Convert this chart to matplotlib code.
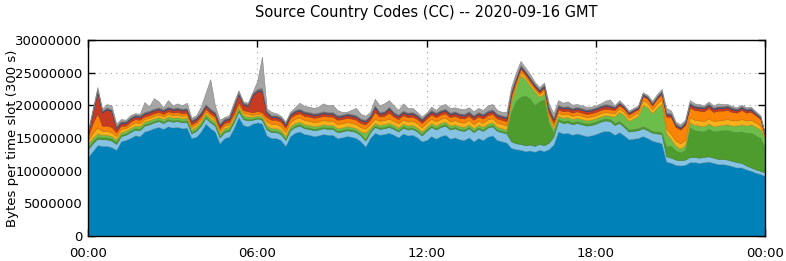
import numpy as np
import matplotlib
matplotlib.use("Agg")
import matplotlib.pyplot as plt
from matplotlib.ticker import FuncFormatter, MultipleLocator

# stacked layers, values in millions of bytes per 300 s slot, one value per 10 minutes
blue = [
    12.1, 13.0, 13.9, 13.8, 13.8, 13.6, 13.2, 14.5, 14.7, 15.0, 15.4, 15.3,
    16.0, 16.2, 16.5, 16.7, 16.4, 16.8, 16.6, 16.7, 16.5, 16.6, 15.0, 15.2,
    16.0, 17.2, 16.5, 16.0, 14.2, 15.0, 15.2, 16.5, 18.2, 17.0, 16.8, 17.2,
    17.4, 17.2, 15.4, 15.0, 15.0, 14.7, 13.8, 15.3, 15.8, 16.0, 15.6, 15.5,
    15.3, 15.4, 15.6, 15.5, 15.5, 15.0, 15.1, 15.3, 15.2, 15.0, 14.5, 13.7,
    15.0, 15.8, 15.5, 15.6, 15.8, 15.5, 15.1, 15.7, 15.4, 15.5, 15.1, 14.5,
    14.7, 15.3, 14.9, 15.3, 15.5, 14.9, 15.1, 14.8, 14.7, 15.1, 14.5, 15.0,
    14.7, 15.2, 15.4, 14.7, 14.5, 14.3, 13.5, 13.3, 13.2, 13.0, 13.1, 12.9,
    13.2, 13.0, 13.3, 14.0, 16.0, 15.7, 15.8, 15.5, 15.7, 15.5, 15.3, 15.4,
    15.6, 15.9, 16.1, 16.0, 15.5, 15.9, 15.4, 14.8, 14.9, 15.0, 15.3, 15.0,
    14.6, 14.4, 14.2, 11.4, 11.2, 10.9, 10.8, 10.9, 11.3, 11.3, 11.2, 11.3,
    11.4, 11.2, 11.0, 11.0, 10.9, 10.7, 10.5, 10.5, 10.2, 10.0, 9.7, 9.5,
    9.2]

lightblue = [
    1.2, 1.2, 1.0, 1.0, 1.0, 1.0, 0.9, 0.8, 0.8, 0.9, 0.9, 0.9,
    0.9, 0.9, 0.9, 0.9, 0.9, 0.9, 0.9, 0.9, 0.9, 0.9, 0.7, 0.9,
    0.9, 0.9, 0.9, 0.9, 0.9, 0.9, 0.9, 0.9, 0.9, 0.9, 0.9, 0.6,
    0.6, 0.6, 0.9, 0.9, 0.9, 0.9, 0.9, 0.9, 0.9, 0.9, 0.9, 0.9,
    0.9, 0.9, 0.9, 0.9, 0.9, 0.9, 0.9, 0.9, 0.9, 0.9, 0.9, 0.9,
    0.9, 0.9, 0.9, 0.9, 0.9, 0.9, 0.9, 0.9, 0.9, 0.9, 0.9, 0.9,
    1.4, 1.4, 1.4, 1.4, 1.4, 1.4, 1.4, 1.4, 1.4, 1.4, 1.4, 1.4,
    1.4, 1.4, 1.4, 1.4, 1.4, 1.4, 1.0, 0.9, 0.9, 0.9, 0.9, 0.9,
    0.9, 0.9, 1.0, 1.2, 1.6, 1.6, 1.6, 1.6, 1.6, 1.6, 1.6, 1.6,
    1.6, 1.6, 1.6, 1.6, 1.5, 1.4, 1.3, 1.2, 1.2, 1.2, 1.2, 1.2,
    1.2, 1.3, 1.4, 0.8, 0.8, 0.8, 0.8, 0.8, 0.8, 0.8, 0.8, 0.8,
    0.8, 0.8, 0.8, 0.8, 0.8, 0.8, 0.8, 0.7, 0.6, 0.5, 0.5, 0.5,
    0.5]

darkgreen = [
    0.3, 0.3, 0.3, 0.3, 0.3, 0.3, 0.3, 0.2, 0.2, 0.2, 0.2, 0.2,
    0.2, 0.2, 0.2, 0.2, 0.2, 0.2, 0.2, 0.2, 0.2, 0.2, 0.2, 0.2,
    0.2, 0.2, 0.2, 0.2, 0.2, 0.2, 0.2, 0.2, 0.2, 0.2, 0.2, 0.15,
    0.15, 0.15, 0.2, 0.2, 0.2, 0.2, 0.2, 0.2, 0.2, 0.2, 0.2, 0.2,
    0.2, 0.2, 0.2, 0.2, 0.2, 0.2, 0.2, 0.2, 0.2, 0.2, 0.2, 0.2,
    0.2, 0.2, 0.2, 0.2, 0.2, 0.2, 0.2, 0.2, 0.2, 0.2, 0.2, 0.2,
    0.2, 0.2, 0.2, 0.2, 0.2, 0.2, 0.2, 0.2, 0.2, 0.2, 0.2, 0.2,
    0.2, 0.2, 0.2, 0.2, 0.2, 0.2, 4.5, 6.5, 7.2, 7.6, 7.0, 6.2,
    6.5, 7.0, 3.0, 0.6, 0.3, 0.3, 0.3, 0.3, 0.3, 0.3, 0.3, 0.3,
    0.3, 0.3, 0.3, 0.3, 0.3, 0.3, 0.3, 0.3, 0.3, 0.3, 0.3, 0.3,
    0.3, 0.3, 0.3, 1.5, 1.8, 1.4, 1.2, 1.5, 4.5, 4.1, 4.1, 3.9,
    4.2, 4.0, 4.3, 4.4, 4.5, 4.5, 4.6, 4.8, 5.0, 5.3, 5.2, 5.0,
    3.8]

lightgreen = [
    0.5, 0.5, 0.5, 0.4, 0.4, 0.4, 0.4, 0.4, 0.4, 0.4, 0.4, 0.4,
    0.4, 0.4, 0.4, 0.4, 0.4, 0.4, 0.4, 0.4, 0.4, 0.4, 0.4, 0.4,
    0.4, 0.4, 0.4, 0.4, 0.4, 0.4, 0.4, 0.4, 0.4, 0.4, 0.4, 0.3,
    0.3, 0.3, 0.4, 0.4, 0.4, 0.4, 0.4, 0.4, 0.4, 0.4, 0.4, 0.4,
    0.4, 0.4, 0.4, 0.4, 0.4, 0.4, 0.4, 0.4, 0.4, 0.4, 0.4, 1.0,
    0.4, 0.4, 0.4, 0.4, 0.4, 0.4, 0.4, 0.4, 0.4, 0.4, 0.4, 0.4,
    0.4, 0.4, 0.4, 0.4, 0.4, 0.4, 0.4, 0.4, 0.4, 0.4, 0.4, 0.4,
    0.4, 0.4, 0.4, 0.4, 0.4, 0.4, 1.5, 2.0, 3.3, 2.5, 2.0, 2.1,
    0.7, 0.9, 0.7, 0.6, 0.5, 0.5, 0.5, 0.5, 0.5, 0.5, 0.5, 0.5,
    0.5, 0.5, 0.5, 0.5, 1.0, 1.4, 1.5, 1.3, 1.6, 1.9, 3.3, 3.2,
    2.7, 3.6, 4.3, 2.0, 1.0, 0.7, 0.6, 0.7, 0.8, 0.8, 0.8, 0.8,
    0.8, 0.8, 0.8, 0.8, 0.9, 0.9, 1.0, 1.1, 1.1, 1.3, 1.3, 1.3,
    1.5]

gold = [
    0.6, 0.8, 0.9, 0.6, 0.6, 0.6, 0.5, 0.5, 0.4, 0.5, 0.5, 0.5,
    0.4, 0.4, 0.4, 0.4, 0.4, 0.4, 0.4, 0.4, 0.4, 0.4, 0.4, 0.4,
    0.4, 0.4, 0.4, 0.4, 0.4, 0.4, 0.4, 0.4, 0.4, 0.4, 0.4, 0.3,
    0.3, 0.3, 0.65, 0.65, 0.65, 0.65, 0.65, 0.65, 0.65, 0.65, 0.65, 0.65,
    0.65, 0.65, 0.65, 0.65, 0.65, 0.65, 0.65, 0.65, 0.65, 0.65, 0.65, 0.65,
    0.65, 0.65, 0.65, 0.65, 0.65, 0.65, 0.65, 0.65, 0.65, 0.65, 0.65, 0.65,
    0.65, 0.65, 0.65, 0.65, 0.65, 0.65, 0.65, 0.65, 0.65, 0.65, 0.65, 0.65,
    0.65, 0.65, 0.65, 0.65, 0.65, 0.65, 0.5, 0.5, 0.5, 0.4, 0.4, 0.4,
    0.4, 0.5, 0.5, 0.5, 0.5, 0.5, 0.5, 0.5, 0.5, 0.5, 0.5, 0.5,
    0.5, 0.5, 0.5, 0.5, 0.5, 0.5, 0.5, 0.5, 0.5, 0.5, 0.7, 0.7,
    0.6, 0.7, 0.7, 0.8, 0.8, 0.8, 0.8, 0.8, 0.8, 0.8, 0.8, 0.8,
    0.8, 0.8, 0.8, 0.8, 0.8, 0.8, 0.8, 0.8, 0.8, 0.7, 0.7, 0.6,
    0.2]

orange = [
    0.6, 1.5, 2.2, 0.8, 0.8, 0.8, 0.6, 0.5, 0.4, 0.5, 0.5, 0.5,
    0.4, 0.4, 0.4, 0.4, 0.4, 0.4, 0.4, 0.4, 0.4, 0.4, 0.4, 0.4,
    0.4, 0.4, 0.4, 0.4, 0.4, 0.4, 0.4, 0.4, 0.4, 0.4, 0.4, 0.4,
    0.4, 0.4, 0.65, 0.65, 0.65, 0.65, 0.65, 0.65, 0.65, 0.65, 0.65, 0.65,
    0.65, 0.65, 0.65, 0.65, 0.65, 0.65, 0.65, 0.65, 0.65, 0.65, 0.65, 0.65,
    0.65, 1.05, 0.65, 0.65, 0.95, 0.65, 0.65, 0.65, 0.65, 0.65, 0.65, 0.65,
    0.65, 0.65, 0.65, 0.65, 0.65, 0.65, 0.65, 0.65, 0.65, 0.65, 0.65, 0.65,
    0.65, 0.65, 0.65, 0.65, 0.65, 0.65, 0.5, 0.5, 0.5, 0.4, 0.4, 0.3,
    0.3, 0.4, 0.5, 0.5, 0.5, 0.5, 0.5, 0.5, 0.5, 0.5, 0.5, 0.5,
    0.5, 0.5, 0.5, 0.5, 0.5, 0.5, 0.5, 0.5, 0.5, 0.5, 0.6, 0.6,
    0.6, 0.7, 0.8, 1.8, 2.6, 2.1, 2.1, 2.3, 1.5, 1.5, 1.5, 1.5,
    1.6, 1.4, 1.5, 1.4, 1.4, 1.3, 1.2, 1.4, 1.2, 1.2, 1.1, 1.0,
    0.2]

red = [
    0.4, 1.6, 3.3, 2.0, 2.5, 2.4, 0.6, 0.4, 0.4, 0.4, 0.4, 0.4,
    0.4, 0.4, 0.4, 0.4, 0.4, 0.4, 0.4, 0.4, 0.4, 0.4, 0.4, 0.4,
    0.4, 0.4, 0.4, 0.4, 0.4, 0.4, 0.4, 1.0, 1.2, 0.8, 0.8, 2.6,
    3.0, 3.2, 0.6, 0.4, 0.4, 0.4, 0.4, 0.4, 0.4, 0.4, 0.4, 0.4,
    0.4, 0.4, 0.4, 0.4, 0.4, 0.4, 0.4, 0.4, 0.4, 0.4, 0.4, 0.4,
    0.4, 0.7, 0.4, 0.4, 0.6, 0.4, 0.4, 0.4, 0.4, 0.4, 0.4, 0.4,
    0.4, 0.4, 0.4, 0.4, 0.4, 0.4, 0.4, 0.4, 0.4, 0.4, 0.4, 0.4,
    0.4, 0.4, 0.4, 0.4, 0.4, 0.4, 0.4, 0.3, 0.3, 0.2, 0.2, 0.2,
    0.2, 0.2, 0.4, 0.4, 0.4, 0.4, 0.4, 0.4, 0.4, 0.4, 0.4, 0.4,
    0.4, 0.4, 0.4, 0.4, 0.3, 0.3, 0.2, 0.2, 0.2, 0.2, 0.2, 0.2,
    0.2, 0.2, 0.3, 0.3, 0.3, 0.2, 0.2, 0.2, 0.4, 0.4, 0.4, 0.4,
    0.4, 0.4, 0.4, 0.4, 0.4, 0.4, 0.3, 0.3, 0.3, 0.3, 0.2, 0.2,
    0.1]

navy = [
    0.1, 0.1, 0.1, 0.1, 0.1, 0.1, 0.1, 0.1, 0.1, 0.1, 0.1, 0.1,
    0.1, 0.1, 0.1, 0.1, 0.1, 0.1, 0.1, 0.1, 0.1, 0.1, 0.1, 0.1,
    0.1, 0.1, 0.1, 0.1, 0.1, 0.1, 0.1, 0.1, 0.1, 0.1, 0.1, 0.1,
    0.1, 0.1, 0.1, 0.1, 0.1, 0.1, 0.1, 0.1, 0.1, 0.1, 0.1, 0.1,
    0.1, 0.1, 0.1, 0.1, 0.1, 0.1, 0.1, 0.1, 0.1, 0.1, 0.1, 0.1,
    0.1, 0.1, 0.1, 0.1, 0.1, 0.1, 0.1, 0.1, 0.1, 0.1, 0.1, 0.1,
    0.1, 0.1, 0.1, 0.1, 0.1, 0.1, 0.1, 0.1, 0.1, 0.1, 0.1, 0.1,
    0.1, 0.1, 0.1, 0.1, 0.1, 0.1, 0.1, 0.1, 0.1, 0.1, 0.1, 0.1,
    0.1, 0.1, 0.1, 0.1, 0.1, 0.1, 0.1, 0.1, 0.1, 0.1, 0.1, 0.1,
    0.1, 0.1, 0.1, 0.1, 0.1, 0.1, 0.1, 0.1, 0.1, 0.1, 0.1, 0.1,
    0.1, 0.1, 0.1, 0.1, 0.1, 0.1, 0.1, 0.1, 0.1, 0.1, 0.1, 0.1,
    0.1, 0.1, 0.1, 0.1, 0.1, 0.1, 0.1, 0.1, 0.1, 0.1, 0.1, 0.1,
    0.0]

darkgrey = [
    0.1, 0.2, 0.2, 0.2, 0.2, 0.2, 0.2, 0.2, 0.2, 0.2, 0.2, 0.2,
    0.2, 0.2, 0.2, 0.2, 0.2, 0.2, 0.2, 0.2, 0.2, 0.2, 0.2, 0.2,
    0.2, 0.2, 0.2, 0.2, 0.2, 0.2, 0.2, 0.2, 0.2, 0.2, 0.2, 0.2,
    0.3, 0.4, 0.2, 0.2, 0.2, 0.2, 0.2, 0.2, 0.2, 0.2, 0.2, 0.2,
    0.2, 0.2, 0.2, 0.2, 0.2, 0.2, 0.2, 0.2, 0.2, 0.2, 0.2, 0.2,
    0.2, 0.2, 0.2, 0.2, 0.2, 0.2, 0.2, 0.2, 0.2, 0.2, 0.2, 0.2,
    0.2, 0.2, 0.2, 0.2, 0.2, 0.2, 0.2, 0.2, 0.2, 0.2, 0.2, 0.2,
    0.2, 0.2, 0.2, 0.2, 0.2, 0.2, 0.2, 0.2, 0.2, 0.2, 0.2, 0.2,
    0.2, 0.2, 0.2, 0.2, 0.2, 0.2, 0.2, 0.2, 0.2, 0.2, 0.2, 0.2,
    0.2, 0.2, 0.2, 0.2, 0.1, 0.1, 0.1, 0.1, 0.1, 0.1, 0.1, 0.1,
    0.1, 0.1, 0.1, 0.2, 0.2, 0.2, 0.2, 0.2, 0.2, 0.2, 0.2, 0.2,
    0.2, 0.2, 0.2, 0.2, 0.2, 0.2, 0.2, 0.2, 0.2, 0.2, 0.1, 0.1,
    0.0]

grey = [
    0.3, 0.3, 0.4, 0.3, 0.5, 0.6, 0.4, 0.3, 0.2, 0.3, 0.2, 0.2,
    1.5, 0.6, 1.6, 0.9, 0.3, 1.0, 0.4, 0.6, 0.5, 0.8, 0.3, 0.3,
    0.8, 1.7, 4.5, 1.0, 0.6, 0.2, 0.3, 0.4, 0.3, 0.2, 0.2, 0.2,
    1.2, 4.8, 0.4, 0.5, 0.3, 0.2, 0.2, 0.2, 0.4, 0.9, 0.8, 0.8,
    0.8, 0.9, 1.2, 1.0, 1.1, 0.8, 0.4, 0.2, 0.6, 1.1, 0.7, 0.6,
    0.5, 1.0, 1.0, 1.2, 1.0, 1.0, 0.7, 1.1, 0.7, 0.6, 0.4, 0.3,
    0.2, 0.5, 0.4, 0.7, 0.7, 0.7, 0.6, 0.7, 0.7, 0.6, 0.6, 0.6,
    0.6, 0.8, 0.8, 0.6, 0.5, 0.7, 0.6, 0.7, 0.6, 0.5, 0.5, 0.3,
    0.3, 0.3, 0.6, 0.7, 0.7, 0.6, 0.7, 0.5, 0.4, 0.4, 0.4, 0.3,
    0.3, 0.3, 0.5, 0.8, 0.2, 0.3, 0.2, 0.2, 0.2, 0.2, 0.2, 0.2,
    0.3, 0.3, 0.3, 0.7, 0.4, 0.3, 0.3, 0.3, 0.4, 0.3, 0.3, 0.2,
    0.3, 0.3, 0.4, 0.3, 0.2, 0.2, 0.2, 0.2, 0.2, 0.2, 0.2, 0.2,
    0.1]

layers = [blue, lightblue, darkgreen, lightgreen, gold, orange, red, navy, darkgrey, grey]
colors = ["#0082b8", "#86c3e3", "#4e9c2e", "#6dbd4b", "#f7b21b",
          "#f98406", "#c73b22", "#3d4f9a", "#6e6e6e", "#a5a5a5"]

tick_hours = [0, 6, 12, 18, 24]
tick_labels = ["00:00", "06:00", "12:00", "18:00", "00:00"]

# 10 minute steps over the day, in hours
hours = np.arange(len(blue)) / 6.0
values = [np.array(l) * 1e6 for l in layers]

fig = plt.figure(figsize=(7.86, 2.61), dpi=100)
ax = fig.add_axes([88 / 786, 1 - 236 / 261, 677 / 786, 196 / 261])

polys = ax.stackplot(hours, *values, colors=colors, linewidth=0.4)
for p, c in zip(polys, colors):
    rgb = np.array(matplotlib.colors.to_rgb(c)) * 0.8
    p.set_edgecolor(rgb)

ax.set_xlim(0, 24)
ax.set_ylim(0, 30e6)
ax.set_xticks(tick_hours)
ax.set_xticklabels(tick_labels)
ax.yaxis.set_major_locator(MultipleLocator(5e6))
ax.yaxis.set_major_formatter(FuncFormatter(lambda v, p: "%d" % v))

ax.tick_params(direction="in", length=5, width=1, top=True, right=True,
               labelsize=9.5, colors="black")
ax.tick_params(axis="x", pad=8)
ax.tick_params(axis="y", pad=4)
ax.grid(True, linestyle=(0, (1, 4)), color="#a0a0a0", linewidth=0.8)
ax.set_axisbelow(True)
for s in ax.spines.values():
    s.set_linewidth(1.0)
    s.set_zorder(5)

fig.text(0.016, 1 - 138 / 261, "Bytes per time slot (300 s)", rotation=90,
         ha="center", va="center", fontsize=9.5)
fig.text(0.542, 0.952, "Source Country Codes (CC) -- 2020-09-16 GMT",
         ha="center", va="center", fontsize=10.5)

fig.savefig("out.png", dpi=100)
